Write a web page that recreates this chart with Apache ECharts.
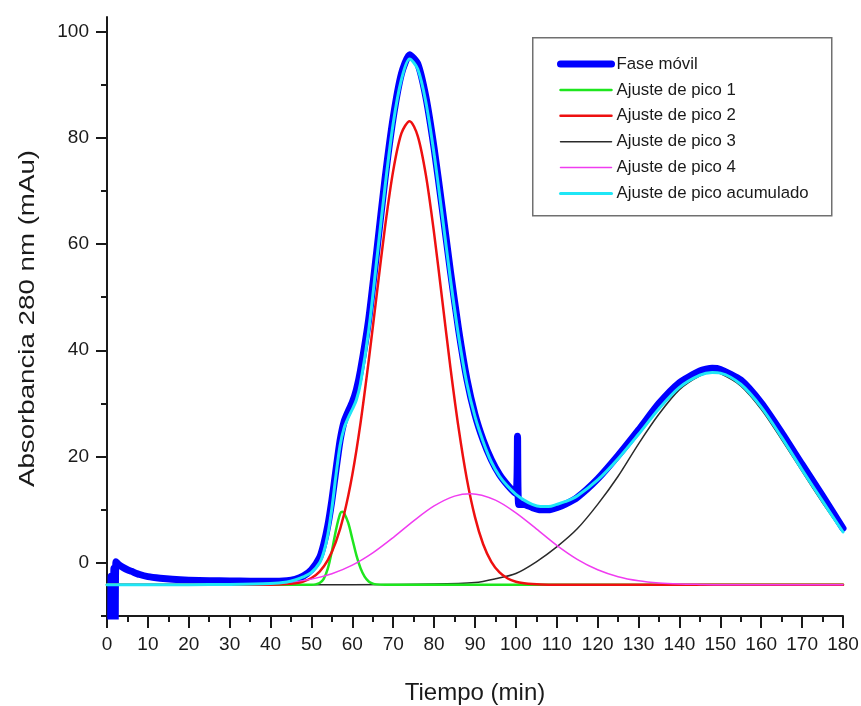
<!DOCTYPE html>
<html>
<head>
<meta charset="utf-8">
<title>Cromatograma</title>
<script src="https://cdn.jsdelivr.net/npm/echarts@6/dist/echarts.min.js"></script>
<style>
  html, body { margin: 0; padding: 0; background: #ffffff; }
  #chart { width: 861px; height: 706px; }
</style>
</head>
<body>
<div id="chart"></div>
<script>
// Measured absorbance trace at 280 nm, [tiempo (min), absorbancia (mAu)]
const faseMovil = [
  [0.9,-12],[1.0,-2.5],[1.4,-12],[1.7,-1.0],[2.0,-12],[2.2,0.2],[3,-0.4],[4,-0.9],[5,-1.3],
  [6,-1.6],[8,-2.2],
  [10,-2.6],[13,-2.9],[16,-3.1],[20,-3.25],[25,-3.35],[30,-3.4],[35,-3.45],[40,-3.45],
  [44,-3.35],[46,-3.1],[48,-2.5],[50,-1.3],[52,1.0],[53,3.5],[54,7.0],[55,11.8],[56,17.5],
  [57,23.0],[58,26.6],[59,28.5],[60,30.2],[61,32.6],[62,36.2],[64,45.8],[66,58.8],[68,72.3],
  [70,83.8],[72,92.0],[74,95.6],[76,93.9],[78,87.6],[80,78.0],[82,66.6],[84,54.8],[86,43.8],
  [88,34.6],[90,27.9],[92,23.1],[94,19.4],[96,16.6],[98,14.6],[100,13.0],[100.4,23.8],
  [100.7,11.0],[102,11.0],[104,10.4],[106,10.0],[108,10.0],[110,10.4],[112,11.0],[115,12.3],
  [120,15.8],[125,20.2],[130,25.0],[135,30.0],[140,33.9],[145,36.1],[148,36.6],[150,36.4],
  [155,34.4],[160,30.1],[165,24.5],[170,18.5],[175,12.6],[180,6.5]
];

// Peak fit 1
const pico1 = [
  [0,-4.1],[50,-4.1],[51,-4.05],[52,-3.8],[53,-3.0],[54,-1.1],[55,2.2],[56,6.2],[57,9.2],
  [57.5,9.6],[58,9.3],[59,7.5],[60,4.5],[61,1.4],[62,-1.0],[63,-2.6],[64,-3.5],[65,-3.9],
  [66,-4.05],[68,-4.1],[120,-4.1],[180,-4.1]
];

// Peak fit 2
const pico2 = [
  [0,-4.1],[40,-4.1],[44,-4.0],[46,-3.83],[48,-3.5],[50,-2.85],[52,-1.64],[54,0.5],[56,4.0],
  [58,9.2],[60,16.6],[62,26.3],[64,38.0],[66,50.7],[68,63.2],[70,73.8],[72,80.8],[74,83.1],
  [76,80.3],[78,72.9],[80,62.0],[82,49.4],[84,36.7],[86,25.3],[88,15.8],[90,8.6],[92,3.5],
  [94,0.2],[96,-1.8],[98,-2.94],[100,-3.55],[102,-3.85],[104,-4.0],[108,-4.1],[140,-4.1],[180,-4.1]
];

// Peak fit 3
const pico3 = [
  [0,-4.1],[60,-4.1],[80,-4.0],[90,-3.7],[95,-3.0],[100,-2.0],[105,0.2],[110,3.0],[115,6.4],
  [120,11.0],[125,16.3],[130,22.4],[135,28.0],[140,32.6],[145,35.2],[148,35.8],[150,35.6],
  [155,33.3],[160,28.9],[165,23.2],[170,17.2],[175,11.3],[180,5.8]
];

// Peak fit 4
const pico4 = [
  [0,-4.1],[30,-4.07],[40,-3.9],[45,-3.62],[50,-3.06],[55,-2.05],[60,-0.44],[65,1.87],
  [70,4.76],[75,7.9],[80,10.7],[85,12.55],[89,13.0],[95,11.8],[100,9.4],[105,6.4],[110,3.3],
  [115,0.67],[120,-1.3],[125,-2.6],[130,-3.37],[135,-3.78],[140,-3.97],[145,-4.05],[150,-4.1],[180,-4.1]
];

// Cumulative peak fit
const picoAcumulado = [
  [0,-4.1],[20,-4.1],[30,-4.07],[40,-3.9],[44,-3.62],[46,-3.23],[48,-2.65],[50,-1.8],[52,0.0],
  [53,2.0],[54,5.3],[55,10.3],[56,16.5],[57,22.1],[58,25.4],[59,27.3],[60,28.9],[61,30.7],
  [62,33.8],[64,43.7],[66,57.2],[68,70.8],[70,82.7],[72,90.9],[74,94.8],[76,92.9],[78,86.6],
  [80,76.9],[82,65.3],[84,53.3],[86,42.6],[88,33.8],[90,27.5],[92,22.8],[94,19.0],[96,16.3],
  [98,14.4],[100,12.9],[102,11.8],[104,11.0],[106,10.6],[108,10.6],[110,11.0],[112,11.5],
  [115,12.6],[120,15.6],[125,19.6],[130,24.2],[135,29.0],[140,33.0],[145,35.3],[148,35.8],
  [150,35.7],[155,33.6],[160,29.3],[165,23.6],[170,17.5],[175,11.6],[180,5.8]
];

const seriesNames = [
  'Fase móvil',
  'Ajuste de pico 1',
  'Ajuste de pico 2',
  'Ajuste de pico 3',
  'Ajuste de pico 4',
  'Ajuste de pico acumulado'
];

// Axis ticks
const yLabelValues = [0, 20, 40, 60, 80, 100];
const yMinorValues = [-10, 10, 30, 50, 70, 90];

const FONT = "'Liberation Sans', Arial, sans-serif";
const INK = '#1a1a1a';

const colors = {
  movil: '#0000ff',
  p1: '#1ee61e',
  p2: '#ee1010',
  p3: '#2a2a2a',
  p4: '#f03cf0',
  acum: '#1fe6f6'
};
const widths = { movil: 7, p1: 2.5, p2: 2.5, p3: 1.5, p4: 1.5, acum: 3 };

function lineSeries(name, data, color, width, z, smooth) {
  return {
    name: name,
    type: 'line',
    data: data,
    symbol: 'none',
    smooth: smooth,
    clip: true,
    z: z,
    lineStyle: { color: color, width: width, cap: 'round', join: 'round' },
    itemStyle: { color: color },
    emphasis: { disabled: true },
    animation: false
  };
}

const chart = echarts.init(document.getElementById('chart'), null, { renderer: 'canvas' });

const option = {
  backgroundColor: '#ffffff',
  animation: false,
  grid: { left: 107, right: 18, top: 17, bottom: 90, containLabel: false, outerBoundsMode: 'none' },
  xAxis: {
    type: 'value',
    min: 0,
    max: 180,
    interval: 10,
    name: 'Tiempo (min)',
    nameLocation: 'middle',
    nameGap: 77,
    nameTextStyle: { fontFamily: FONT, fontSize: 24, color: INK, verticalAlign: 'middle' },
    axisLine: { onZero: false, lineStyle: { color: INK, width: 2 } },
    axisTick: { show: true, inside: false, length: 12, lineStyle: { color: INK, width: 2 } },
    minorTick: { show: true, splitNumber: 2, length: 6, lineStyle: { color: INK, width: 2 } },
    axisLabel: { fontFamily: FONT, fontSize: 19, color: INK, margin: 19 },
    splitLine: { show: false },
    minorSplitLine: { show: false }
  },
  yAxis: [
    {
      type: 'value',
      min: -10,
      max: 102.7,
      position: 'left',
      axisLine: { onZero: false, lineStyle: { color: INK, width: 2 } },
      axisTick: { show: true, inside: false, length: 11, customValues: yLabelValues,
                  lineStyle: { color: INK, width: 2 } },
      axisLabel: { fontFamily: FONT, fontSize: 19, color: INK, margin: 18,
                   customValues: yLabelValues },
      splitLine: { show: false }
    },
    {
      type: 'value',
      min: -10,
      max: 102.7,
      position: 'left',
      axisLine: { show: false, onZero: false },
      axisTick: { show: true, inside: false, length: 6, customValues: yMinorValues,
                  lineStyle: { color: INK, width: 2 } },
      axisLabel: { show: false },
      splitLine: { show: false }
    }
  ],
  legend: {
    orient: 'vertical',
    left: 557,
    top: 54,
    padding: 0,
    itemWidth: 51,
    itemHeight: 14,
    itemGap: 5.9,
    selectedMode: false,
    itemStyle: { opacity: 0 },
    textStyle: { fontFamily: FONT, fontSize: 16.8, color: INK, lineHeight: 20 },
    data: [
      { name: seriesNames[0], lineStyle: { width: 7, color: colors.movil, cap: 'round' } },
      { name: seriesNames[1], lineStyle: { width: 2.5, color: colors.p1 } },
      { name: seriesNames[2], lineStyle: { width: 2.5, color: colors.p2 } },
      { name: seriesNames[3], lineStyle: { width: 1.5, color: colors.p3 } },
      { name: seriesNames[4], lineStyle: { width: 1.5, color: colors.p4 } },
      { name: seriesNames[5], lineStyle: { width: 3, color: colors.acum } }
    ]
  },
  graphic: [
    {
      type: 'rect',
      left: 532, top: 37,
      shape: { width: 299, height: 178 },
      style: { fill: 'rgba(0,0,0,0)', stroke: '#707070', lineWidth: 1.5 },
      z: 0
    },
    {
      type: 'text',
      x: 28, y: 318.5,
      rotation: Math.PI / 2,
      scaleY: 0.78,
      style: {
        text: 'Absorbancia 280 nm (mAu)',
        font: '27.7px ' + FONT,
        fill: INK,
        textAlign: 'center',
        textVerticalAlign: 'middle'
      }
    }
  ],
  series: [
    lineSeries(seriesNames[0], faseMovil, colors.movil, widths.movil, 2, 0.2),
    lineSeries(seriesNames[3], pico3, colors.p3, widths.p3, 3, 0.3),
    lineSeries(seriesNames[1], pico1, colors.p1, widths.p1, 4, 0.3),
    lineSeries(seriesNames[2], pico2, colors.p2, widths.p2, 5, 0.3),
    lineSeries(seriesNames[4], pico4, colors.p4, widths.p4, 6, 0.3),
    lineSeries(seriesNames[5], picoAcumulado, colors.acum, widths.acum, 7, 0.3)
  ]
};

chart.setOption(option);
</script>
</body>
</html>
